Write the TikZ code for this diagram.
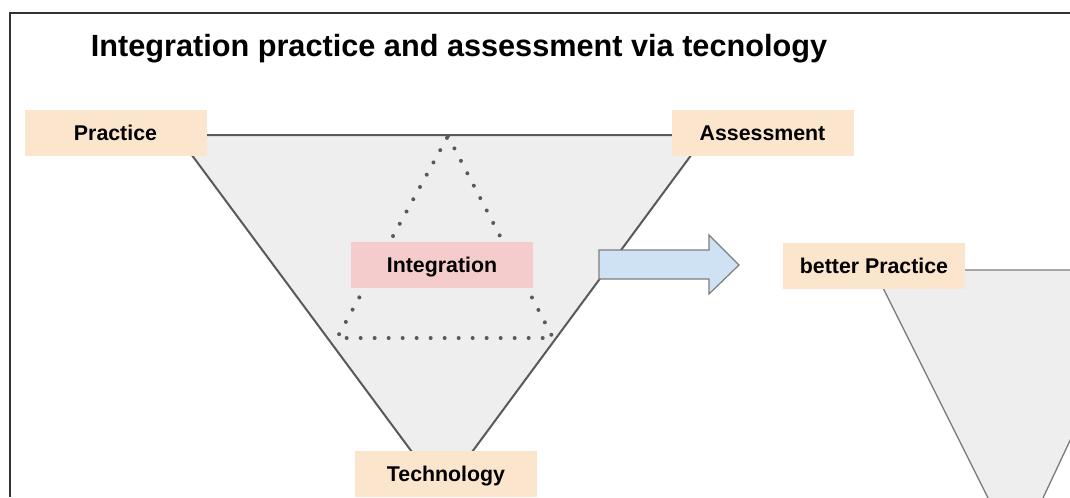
\documentclass[tikz,border=0pt]{standalone}
\usepackage{fontspec}
\setmainfont{Liberation Sans}
\usepackage{tikz}
\usetikzlibrary{positioning, calc}
\definecolor{peachbox}{RGB}{252,229,205}
\definecolor{pinkbox}{RGB}{244,204,204}
\definecolor{arrowblue}{RGB}{207,226,243}
\definecolor{funnelgray}{RGB}{238,238,238}
\definecolor{edgegray}{RGB}{89,89,89}
\definecolor{lightedge}{RGB}{125,125,125}
\definecolor{framegray}{RGB}{51,51,51}

\begin{document}
\begin{tikzpicture}[x=0.75pt, y=-0.75pt,
    labelbox/.style={rectangle, fill=peachbox, minimum width=136.5pt, minimum height=34.5pt, inner sep=0pt, text height=11.5pt, text depth=0pt, font=\fontsize{16}{18}\selectfont\bfseries},
    funnel/.style={fill=funnelgray, draw=edgegray, line width=1.5pt}]
    \useasboundingbox (0,0) rectangle (1070,497);
    \clip (0,0) rectangle (1070,497);
    % Frame
    \draw[framegray, line width=1.2pt] (10,497) -- (10,13) -- (1075,13);
    % Title
    \node[font=\fontsize{23}{27}\selectfont\bfseries, inner sep=0pt, text height=16.5pt, text depth=0pt] (title) at (459,45) {Integration practice and assessment via tecnology};
    % Main funnel
    \draw[funnel] (177,135) -- (706,135) -- (472,452) -- (412,452) -- cycle;
    % Dotted triangle
    \draw[edgegray, line width=3pt, line cap=round, dash pattern=on 0pt off 10.5pt] (448,136) -- (553,338) -- (337,338) -- cycle;
    % Second funnel
    \draw[fill=funnelgray, draw=lightedge, line width=1pt] (874,270) -- (1150,270) -- (1028,530) -- (1004,530) -- cycle;
    % Labels
    \node[labelbox] (practice) at (115.5,133) {Practice};
    \node[labelbox] (assessment) at (762.5,133) {Assessment};
    \node[labelbox, fill=pinkbox] (integration) at (442,264.5) {Integration};
    \node[labelbox] (technology) at (446,473.5) {Technology};
    \node[labelbox] (betterpractice) at (874,265.5) {better Practice};
    % Block arrow
    \draw[fill=arrowblue, draw=lightedge, line width=0.9pt] (599,250) -- (709,250) -- (709,235) -- (739,265) -- (709,294) -- (709,279) -- (599,279) -- cycle;
\end{tikzpicture}
\end{document}
